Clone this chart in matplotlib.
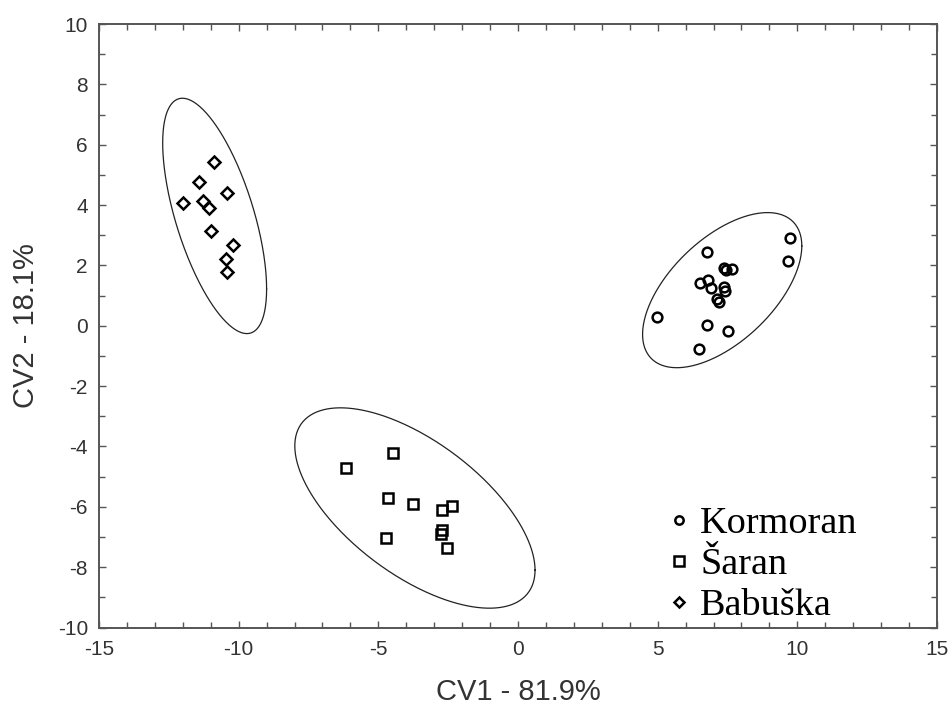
import numpy as np
import matplotlib
matplotlib.use("Agg")
import matplotlib.pyplot as plt
from matplotlib.lines import Line2D

plt.rcParams["axes.unicode_minus"] = False

# Canonical variable scores per group
kormoran_cv1 = [9.74, 9.68, 6.78, 7.39, 7.65, 7.45, 6.81, 6.52, 6.90, 7.39, 7.41, 7.11, 7.20, 4.99, 6.76, 7.50, 6.48]
kormoran_cv2 = [2.90, 2.14, 2.43, 1.90, 1.88, 1.85, 1.51, 1.43, 1.24, 1.27, 1.16, 0.88, 0.78, 0.28, 0.02, -0.18, -0.77]

saran_cv1 = [-4.46, -6.16, -4.67, -3.77, -2.71, -2.35, -2.71, -2.77, -4.74, -2.53]
saran_cv2 = [-4.23, -4.73, -5.70, -5.92, -6.09, -5.97, -6.77, -6.91, -7.03, -7.36]

babuska_cv1 = [-10.87, -11.41, -10.41, -12.01, -11.29, -11.06, -11.00, -10.19, -10.45, -10.41]
babuska_cv2 = [5.42, 4.75, 4.39, 4.06, 4.14, 3.89, 3.15, 2.67, 2.20, 1.79]

# Confidence ellipses: centre (x, y), half-extent along x and y, correlation
kormoran_ellipse = (7.31, 1.18, 2.85, 2.57, 0.57)
saran_ellipse = (-3.69, -6.04, 4.30, 3.32, -0.62)
babuska_ellipse = (-10.86, 3.64, 1.86, 3.90, -0.62)

group_names = ["Kormoran", "Šaran", "Babuška"]

text_gray = "#333333"
frame_gray = "#555555"


def ellipse_curve(cx, cy, sx, sy, r, n=400):
    t = np.linspace(0, 2 * np.pi, n)
    x = cx + sx * np.cos(t)
    y = cy + sy * (r * np.cos(t) + np.sqrt(1 - r * r) * np.sin(t))
    return x, y


fig = plt.figure(figsize=(9.49, 7.08), dpi=100)
fig.patch.set_facecolor("white")
ax = fig.add_axes([99 / 949, 1 - 627.5 / 708, (937 - 99) / 949, (627.5 - 24) / 708])

marker_kw = dict(linestyle="none", markerfacecolor="none", markeredgecolor="black",
                 markeredgewidth=1.8)
ax.plot(kormoran_cv1, kormoran_cv2, marker="o", markersize=7.0, **marker_kw)
ax.plot(saran_cv1, saran_cv2, marker="s", markersize=7.0, **marker_kw)
ax.plot(babuska_cv1, babuska_cv2, marker="D", markersize=6.5, **marker_kw)

for params in (kormoran_ellipse, saran_ellipse, babuska_ellipse):
    ex, ey = ellipse_curve(*params)
    ax.plot(ex, ey, color="#222222", linewidth=0.9)

ax.set_xlim(-15, 15)
ax.set_ylim(-10, 10)
ax.set_xticks(np.arange(-15, 16, 5))
ax.set_yticks(np.arange(-10, 11, 2))
ax.set_xticks(np.arange(-15, 16, 1), minor=True)
ax.set_yticks(np.arange(-10, 11, 1), minor=True)

for side in ax.spines.values():
    side.set_color(frame_gray)
    side.set_linewidth(1.4)

ax.tick_params(which="both", direction="in", top=True, right=True,
               color=frame_gray, width=1.0, labelcolor=text_gray)
ax.tick_params(which="major", length=5)
ax.tick_params(which="minor", length=4)
ax.tick_params(axis="x", which="major", pad=9)
ax.tick_params(axis="y", which="major", pad=8)

for lab in ax.get_xticklabels() + ax.get_yticklabels():
    lab.set_fontfamily("Liberation Sans")
    lab.set_fontsize(15)

ax.set_xlabel("CV1 - 81.9%", fontfamily="Liberation Sans", fontsize=21, color=text_gray)
ax.set_ylabel("CV2 - 18.1%", fontfamily="Liberation Sans", fontsize=21, color=text_gray)
ax.xaxis.set_label_coords(0.5, -0.083)
ax.yaxis.set_label_coords(-0.071, 0.5)

handles = [
    Line2D([], [], marker="o", markersize=6.0, **marker_kw),
    Line2D([], [], marker="s", markersize=7.0, **marker_kw),
    Line2D([], [], marker="D", markersize=5.6, **marker_kw),
]
leg = ax.legend(handles, group_names, loc="lower left", bbox_to_anchor=(0.658, -0.018),
                frameon=False, handlelength=0.7, handletextpad=0.2, labelspacing=0.16,
                borderaxespad=0.0,
                prop={"family": "Liberation Serif", "size": 27.5})
for t in leg.get_texts():
    t.set_color("black")

fig.savefig("out.png", dpi=100, facecolor="white")
